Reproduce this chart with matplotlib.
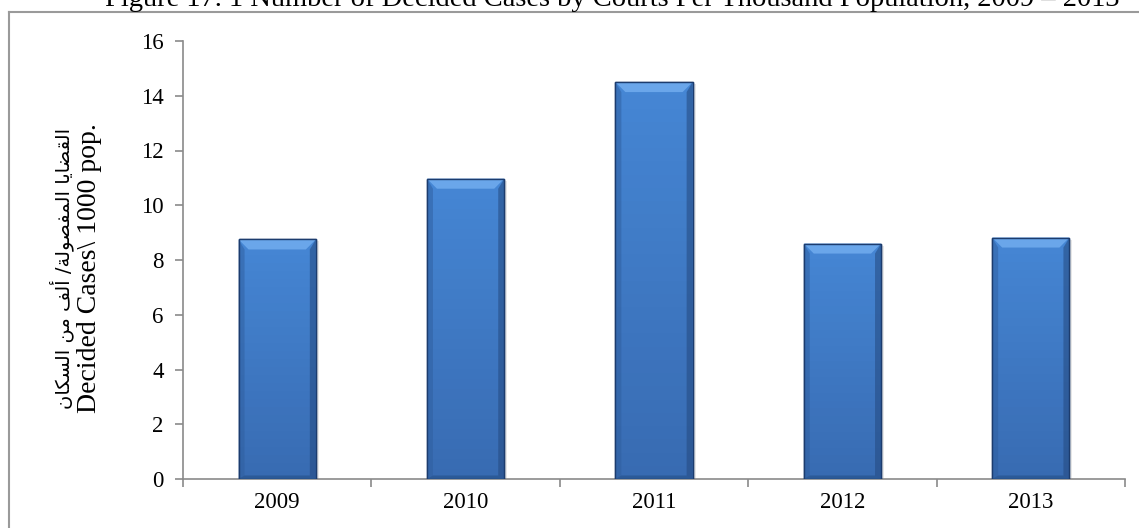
import matplotlib
matplotlib.use("Agg")
import matplotlib.pyplot as plt
from matplotlib.patches import Polygon, Rectangle
from matplotlib.lines import Line2D
import numpy as np

years = ["2009", "2010", "2011", "2012", "2013"]
values = [8.75, 10.97, 14.50, 8.60, 8.82]
yticks = [0, 2, 4, 6, 8, 10, 12, 14, 16]
title = "Figure 17. 1 Number of Decided Cases by Courts Per Thousand Population, 2009 \u2013 2013"
ylabel_ar = "القضايا المفصولة/ ألف من السكان"
ylabel_en = "Decided Cases\\ 1000 pop."

# minimal Arabic shaping (isolated, final, initial, medial)
FORMS = {
    'ا': ('\uFE8D', '\uFE8E', None, None),
    'أ': ('\uFE83', '\uFE84', None, None),
    'ل': ('\uFEDD', '\uFEDE', '\uFEDF', '\uFEE0'),
    'ق': ('\uFED5', '\uFED6', '\uFED7', '\uFED8'),
    'ض': ('\uFEBD', '\uFEBE', '\uFEBF', '\uFEC0'),
    'ي': ('\uFEF1', '\uFEF2', '\uFEF3', '\uFEF4'),
    'م': ('\uFEE1', '\uFEE2', '\uFEE3', '\uFEE4'),
    'ف': ('\uFED1', '\uFED2', '\uFED3', '\uFED4'),
    'ص': ('\uFEB9', '\uFEBA', '\uFEBB', '\uFEBC'),
    'و': ('\uFEED', '\uFEEE', None, None),
    'ة': ('\uFE93', '\uFE94', None, None),
    'س': ('\uFEB1', '\uFEB2', '\uFEB3', '\uFEB4'),
    'ك': ('\uFED9', '\uFEDA', '\uFEDB', '\uFEDC'),
    'ن': ('\uFEE5', '\uFEE6', '\uFEE7', '\uFEE8'),
}


def shape(text):
    out = []
    n = len(text)
    for i, ch in enumerate(text):
        if ch not in FORMS:
            out.append(ch)
            continue
        iso, fin, ini, med = FORMS[ch]
        prev = text[i - 1] if i > 0 else None
        nxt = text[i + 1] if i < n - 1 else None
        joins_prev = prev in FORMS and FORMS[prev][2] is not None
        joins_next = nxt in FORMS and ini is not None
        if joins_prev and joins_next:
            out.append(med)
        elif joins_prev:
            out.append(fin)
        elif joins_next:
            out.append(ini)
        else:
            out.append(iso)
    return "".join(out)[::-1]


W, H = 1139, 528
fig = plt.figure(figsize=(W / 100, H / 100), dpi=100)
fig.patch.set_facecolor("white")

ax_l, ax_r, ax_b, ax_t = 183, 1125, 479, 41
ax = fig.add_axes([ax_l / W, 1 - ax_b / H, (ax_r - ax_l) / W, (ax_b - ax_t) / H])
ax.set_xlim(-0.5, len(years) - 0.5)
ax.set_ylim(0, 16)

x = np.arange(len(years))
bw = 0.41
bars = ax.bar(x, values, width=bw, color="#3F7DCB", edgecolor="#1C3C6E",
              linewidth=1.0, zorder=3)

# bevel / shading details in data units from pixel sizes
ppx = (ax_r - ax_l) / (len(years))
ppy = (ax_b - ax_t) / 16.0
bev_x = 10 / ppx
bev_y = 10 / ppy
for xi, v in zip(x, values):
    x0, x1 = xi - bw / 2, xi + bw / 2
    # shadow
    ax.add_patch(Rectangle((x1, 0), 3 / ppx, v - 2 / ppy, facecolor="#d8d8d8",
                           edgecolor="none", alpha=0.6, zorder=2))
    # vertical gradient via stacked strips
    nstr = 30
    for k in range(nstr):
        y0 = v * k / nstr
        t = k / (nstr - 1)
        c = np.array([0x38, 0x6B, 0xB2]) * (1 - t) + np.array([0x45, 0x86, 0xD4]) * t
        ax.add_patch(Rectangle((x0, y0), bw, v / nstr + 0.001, facecolor=c / 255,
                               edgecolor="none", zorder=3.1))
    # side darker bevels
    ax.add_patch(Polygon([[x0, 0], [x0 + bev_x * 0.6, 0], [x0 + bev_x * 0.6, v - bev_y],
                          [x0, v]], closed=True, facecolor="#2F5E9E", edgecolor="none",
                         alpha=0.5, zorder=3.2))
    ax.add_patch(Polygon([[x1, 0], [x1 - bev_x * 0.6, 0], [x1 - bev_x * 0.6, v - bev_y],
                          [x1, v]], closed=True, facecolor="#24497F", edgecolor="none",
                         alpha=0.55, zorder=3.2))
    # top bevel
    ax.add_patch(Polygon([[x0, v], [x1, v], [x1 - bev_x, v - bev_y], [x0 + bev_x, v - bev_y]],
                         closed=True, facecolor="#6AA6EA", edgecolor="none", zorder=3.3))
    # bottom bevel
    ax.add_patch(Polygon([[x0, 0], [x1, 0], [x1 - bev_x * 0.6, 0.35 * bev_y],
                          [x0 + bev_x * 0.6, 0.35 * bev_y]], closed=True,
                         facecolor="#2C5A98", edgecolor="none", zorder=3.3))
    ax.add_patch(Rectangle((x0, 0), bw, v, facecolor="none", edgecolor="#1C3C6E",
                           linewidth=1.0, zorder=3.4))

for s in ["top", "right"]:
    ax.spines[s].set_visible(False)
for s in ["left", "bottom"]:
    ax.spines[s].set_color("#8A8A8A")
    ax.spines[s].set_linewidth(1.2)

ax.set_yticks(yticks)
ax.set_yticklabels([str(t) for t in yticks])
ax.set_xticks(np.arange(-0.5, len(years), 1.0))
ax.set_xticklabels([])
ax.set_xticks(x, minor=True)
ax.set_xticklabels(years, minor=True)
ax.tick_params(axis="y", which="major", length=6, width=1.2, color="#8A8A8A",
               labelsize=16.5, pad=8)
ax.tick_params(axis="x", which="major", length=6, width=1.2, color="#8A8A8A",
               direction="out")
ax.tick_params(axis="x", which="minor", length=0, labelsize=16.5, pad=9)
for lab in ax.get_yticklabels() + ax.get_xticklabels(minor=True):
    lab.set_family("Liberation Serif")

# y label (two lines)
fig.text(62 / W, 1 - 268 / H, shape(ylabel_ar), rotation=90, ha="center", va="center",
         fontsize=14, family=["DejaVu Sans"])
fig.text(90 / W, 1 - 268 / H, ylabel_en, rotation=90, ha="center", va="center",
         fontsize=20, family=["Liberation Serif"])

# title (cut off at the top)
fig.text(612 / W, 1 - 6 / H, title, ha="center", va="baseline", fontsize=20.5,
         family=["Liberation Serif"])

# frame lines
fig.add_artist(Line2D([9 / W, 1.0], [1 - 11.5 / H, 1 - 11.5 / H], transform=fig.transFigure,
                      color="#9A9A9A", linewidth=1.5))
fig.add_artist(Line2D([9 / W, 9 / W], [0, 1 - 11.5 / H], transform=fig.transFigure,
                      color="#9A9A9A", linewidth=1.5))

fig.savefig("out.png", dpi=100)
